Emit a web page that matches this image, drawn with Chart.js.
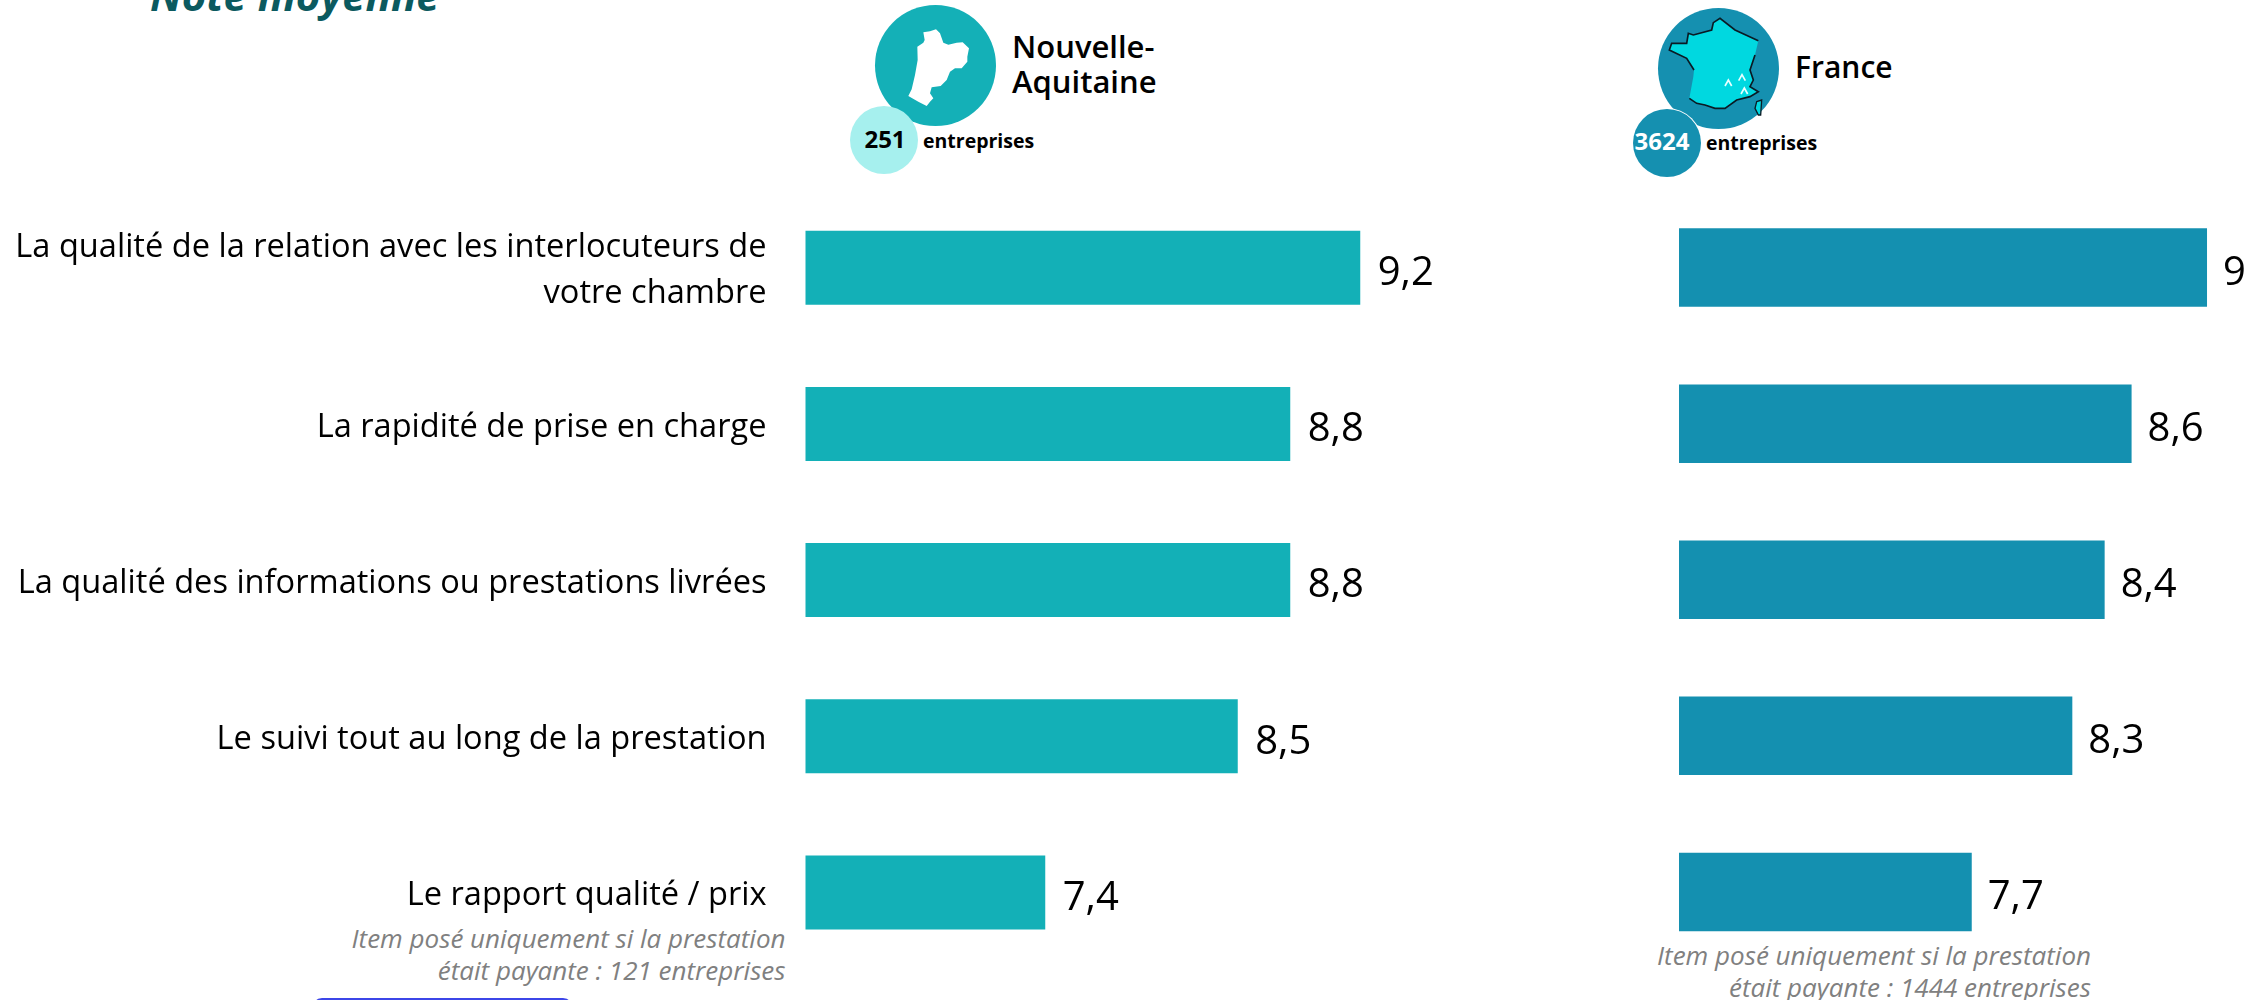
<!DOCTYPE html>
<html lang="fr"><head><meta charset="utf-8">
<script src="https://cdn.jsdelivr.net/npm/chart.js@4/dist/chart.umd.min.js"></script>
<style>
html,body{margin:0;padding:0;background:#fff;width:2264px;height:1000px;overflow:hidden;font-family:"Open Sans",sans-serif}
canvas{position:absolute;top:0}
.t{position:absolute;white-space:nowrap;line-height:1;color:#000}
.c{position:absolute;border-radius:50%}
svg{position:absolute;top:0}
</style></head><body>
<div class="t" style="left:150px;top:-30px;font-size:42px;font-weight:700;font-style:italic;color:#0b5a5f;line-height:50px">Note moyenne</div>

<div class="c" style="left:875px;top:4.5px;width:121px;height:121px;background:#14b0b7"></div>
<div class="c" style="left:850px;top:106px;width:68px;height:68px;background:#a6f0ee"></div>
<svg style="left:780px" width="500" height="220" viewBox="0 0 1500 660"><polygon fill="#fff" points="430,97 450,94 468,88 480,100 490,128 505,134 530,128 548,127 567,145 562,170 562,185 545,205 525,205 510,215 500,240 482,258 455,262 450,280 460,295 450,305 440,318 415,305 385,288 395,268 405,225 413,180 412,140 430,128 434,120"/></svg>
<div class="t" style="left:1012px;top:29px;font-size:31px;font-weight:600;line-height:35px">Nouvelle-<br>Aquitaine</div>
<div class="t" style="left:850px;width:70px;top:125.5px;text-align:center;font-size:24px;font-weight:700;line-height:26px">251</div>
<div class="t" style="left:923px;top:128px;font-size:19.5px;font-weight:700;line-height:26px">entreprises</div>

<div class="c" style="left:1658px;top:8px;width:121px;height:121px;background:#1590b0"></div>
<div class="c" style="left:1632.5px;top:109px;width:68px;height:68px;background:#1590b0;box-shadow:0 0 0 1px #fff"></div>
<svg style="left:1580px" width="500" height="220" viewBox="0 0 1500 660">
<polygon fill="#00d8e0" points="400,68 420,55 465,90 535,122 525,165 515,195 510,210 520,240 510,260 535,275 510,290 470,300 435,325 405,325 375,315 350,310 328,295 340,230 342,210 320,175 268,150 275,130 320,130 325,100 340,105 395,90"/>
<polyline fill="none" stroke="#0a1a24" stroke-width="5" points="342,210 320,175 268,150 275,130 320,130 325,100 340,105 395,90 400,68 420,55 465,90 535,122"/>
<polyline fill="none" stroke="#0a1a24" stroke-width="5" points="525,165 515,195 510,210 520,240 510,260 535,275 510,290 470,300 435,325 405,325 375,315 350,310 328,295"/>
<polygon fill="#00d8e0" stroke="#0a1a24" stroke-width="4" points="530,305 545,300 542,345 535,345 525,325"/>
<g fill="none" stroke="#e8ffff" stroke-width="5"><polyline points="435,258 445,240 455,258"/><polyline points="476,242 486,224 496,242"/><polyline points="483,282 493,264 503,282"/></g>
</svg>
<div class="t" style="left:1795px;top:47px;font-size:30px;font-weight:600;line-height:40px">France</div>
<div class="t" style="left:1626px;width:72px;top:128px;text-align:center;font-size:24px;font-weight:700;line-height:26px;color:#fff">3624</div>
<div class="t" style="left:1706px;top:130px;font-size:19.5px;font-weight:700;line-height:26px">entreprises</div>

<div class="t" style="right:1478.5px;top:922px;text-align:right;font-size:26px;font-style:italic;font-weight:400;color:#808080;line-height:32px">Item posé uniquement si la prestation<br>était payante : 121 entreprises</div>
<div class="t" style="right:173px;top:938.5px;text-align:right;font-size:26px;font-style:italic;font-weight:400;color:#808080;line-height:32px">Item posé uniquement si la prestation<br>était payante : 1444 entreprises</div>
<div style="position:absolute;left:312px;top:998px;width:261px;height:20px;border-radius:10px;background:#3c46e8"></div>

<canvas id="left" style="left:0" width="1520" height="1000"></canvas>
<canvas id="right" style="left:1500px" width="764" height="1000"></canvas>
<script>
const categories = [
  ["La qualité de la relation avec les interlocuteurs de", "votre chambre"],
  "La rapidité de prise en charge",
  "La qualité des informations ou prestations livrées",
  "Le suivi tout au long de la prestation",
  "Le rapport qualité / prix"
];
const naquitaine = [9.2, 8.8, 8.8, 8.5, 7.4];
const france = [9.0, 8.58, 8.43, 8.25, 7.69];

const fmt = v => { const s = v.toFixed(1); return s.endsWith('.0') ? s.slice(0, -2) : s.replace('.', ','); };
const valueLabels = {
  id: 'valueLabels',
  afterDatasetsDraw(chart, args, o) {
    const ctx = chart.ctx, meta = chart.getDatasetMeta(0), data = chart.data.datasets[0].data;
    ctx.save();
    ctx.font = '400 40px "Open Sans"';
    ctx.fillStyle = '#000';
    ctx.textAlign = 'left';
    ctx.textBaseline = 'middle';
    meta.data.forEach((el, i) => ctx.fillText(fmt(data[i]), el.x + o.dx, el.y + 6));
    ctx.restore();
  }
};
function make(id, values, color, opts) {
  return new Chart(document.getElementById(id), {
    type: 'bar',
    data: { labels: categories, datasets: [{ data: values, backgroundColor: color, borderWidth: 0, barPercentage: opts.bar, categoryPercentage: 1 }] },
    plugins: [valueLabels],
    options: {
      indexAxis: 'y', responsive: false, animation: false,
      layout: { padding: opts.padding },
      plugins: { legend: { display: false }, tooltip: { enabled: false }, valueLabels: { dx: opts.dx } },
      scales: {
        x: { display: false, min: opts.min, max: opts.max },
        y: {
          display: opts.axisWidth > 0,
          grid: { display: false, drawTicks: false }, border: { display: false },
          ticks: { autoSkip: false, padding: 39, labelOffset: 3.5, color: '#000', font: { family: '"Open Sans"', size: 32.6, weight: '400', lineHeight: 1.41 } },
          afterFit(s) { if (opts.axisWidth > 0) { s.width = opts.axisWidth; s.paddingTop = 0; s.paddingBottom = 0; s.paddingLeft = 0; s.paddingRight = 0; } }
        }
      }
    }
  });
}
make('left', naquitaine, '#13b0b7', { bar: 74 / 156.2, min: 6.03, max: 9.5, axisWidth: 805.5, dx: 17.5,
  padding: { left: 0, right: 107.25, top: 189.6, bottom: 29.4 } });
make('right', france, '#1490b0', { bar: 78.5 / 156.1, min: 6.06, max: 9.3, axisWidth: 0, dx: 16,
  padding: { left: 179, right: 3.1, top: 189.5, bottom: 30 } });
</script>
</body></html>
